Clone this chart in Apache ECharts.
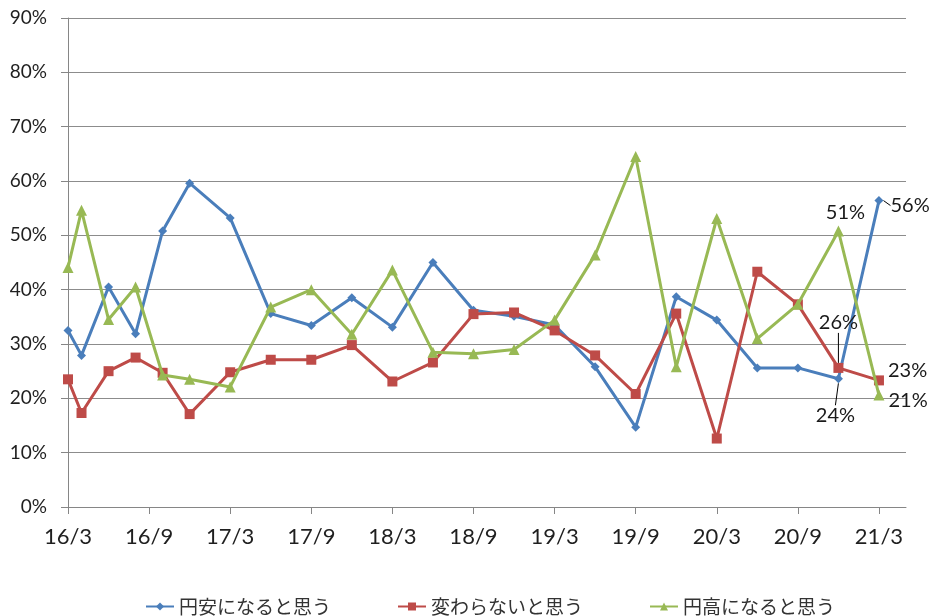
<!DOCTYPE html>
<html>
<head>
<meta charset="utf-8">
<script src="https://cdn.jsdelivr.net/npm/echarts@6/dist/echarts.min.js"></script>
<style>
html,body{margin:0;padding:0;background:#fff;}
#chart{width:930px;height:616px;}
</style>
</head>
<body>
<div id="chart"></div>
<script>
// Survey dates (YYYY-MM)
var surveyDates = ['2016-03','2016-04','2016-06','2016-08','2016-10','2016-12',
  '2017-03','2017-06','2017-09','2017-12','2018-03','2018-06','2018-09','2018-12',
  '2019-03','2019-06','2019-09','2019-12','2020-03','2020-06','2020-09','2020-12','2021-03'];
// Series values (%)
var yenWeaker = [32.5,27.9,40.5,31.9,50.8,59.6,53.2,35.6,33.4,38.5,33.1,45.0,36.2,35.1,33.5,25.8,14.7,38.7,34.4,25.6,25.6,23.6,56.4];
var unchanged = [23.5,17.3,25.0,27.5,24.7,17.1,24.8,27.1,27.1,29.8,23.1,26.6,35.5,35.8,32.5,27.9,20.8,35.6,12.6,43.3,37.3,25.6,23.3];
var yenStronger = [44.1,54.6,34.5,40.5,24.3,23.5,22.1,36.8,40.0,31.8,43.6,28.5,28.2,29.0,34.4,46.4,64.5,25.8,53.1,31.0,37.3,50.8,20.6];
var seriesNames = ['円安になると思う','変わらないと思う','円高になると思う'];
// X tick labels (YY/M)
var xTickLabels = ['16/3','16/9','17/3','17/9','18/3','18/9','19/3','19/9','20/3','20/9','21/3'];
var yTicks = [0,10,20,30,40,50,60,70,80,90];

function monthIndex(s){
  var p = s.split('-');
  return (parseInt(p[0],10)-2016)*12 + (parseInt(p[1],10)-3);
}
function labelIndex(s){
  var p = s.split('/');
  return (parseInt(p[0],10)-16)*12 + (parseInt(p[1],10)-3);
}
var xTickVals = xTickLabels.map(labelIndex);
var labelMap = {};
xTickLabels.forEach(function(l){ labelMap[labelIndex(l)] = l; });

var xs = surveyDates.map(monthIndex);
var lastIdx = xs.length - 1;

var labelFont = {fontFamily:'Lato', fontSize:20, color:'#1a1a1a'};

// which points carry a data label: position, leader line?, dx, dy
var labelSpecs = [
  {}, {}, {}
];
labelSpecs[0][lastIdx]   = {pos:'right',  line:true,  dx:2,  dy:5};
labelSpecs[0][lastIdx-1] = {pos:'bottom', line:true,  dx:-3, dy:17};
labelSpecs[1][lastIdx]   = {pos:'right',  line:false, dx:-1, dy:-10};
labelSpecs[1][lastIdx-1] = {pos:'top',    line:true,  dx:0,  dy:-25};
labelSpecs[2][lastIdx]   = {pos:'right',  line:false, dx:-1, dy:5};
labelSpecs[2][lastIdx-1] = {pos:'top',    line:false, dx:7,  dy:2};

function buildData(vals, spec){
  return vals.map(function(v,i){
    var item = {value:[xs[i], v]};
    if (spec[i]) {
      item.label = Object.assign({show:true, position:spec[i].pos, distance:5}, labelFont);
      item.labelLine = {show: !!spec[i].line, lineStyle:{color:'#000', width:1}};
    }
    return item;
  });
}

var chart = echarts.init(document.getElementById('chart'), null, {renderer:'canvas'});
var colors = ['#4A7EBB','#BE4B48','#98B954'];
var symbols = ['diamond','rect','triangle'];
var symSizes = [9,10,11];
var allVals = [yenWeaker, unchanged, yenStronger];

var series = allVals.map(function(vals, k){
  return {
    name: seriesNames[k],
    type: 'line',
    data: buildData(vals, labelSpecs[k]),
    symbol: symbols[k],
    symbolSize: symSizes[k],
    showAllSymbol: true,
    lineStyle: {color: colors[k], width: 3},
    itemStyle: {color: colors[k]},
    label: {show:false, formatter: function(p){ return Math.round(p.value[1]) + '%'; }},
    labelLine: {show:false},
    labelLayout: function(p){
      var s = labelSpecs[p.seriesIndex][p.dataIndex];
      return s ? {dx:s.dx, dy:s.dy} : {};
    },
    emphasis: {disabled:true},
    animation: false,
    z: 3 + k
  };
});

chart.setOption({
  animation: false,
  grid: {left:68, right:24, top:18, bottom:109, containLabel:false, outerBoundsMode:'none'},
  legend: {
    data: seriesNames,
    left: 140,
    top: 592,
    itemGap: 66,
    itemWidth: 28,
    itemHeight: 10,
    textStyle: {fontFamily:'Noto Sans CJK JP', fontSize:19, color:'#333'}
  },
  xAxis: {
    type: 'value',
    min: 0,
    max: 62,
    axisLine: {show:true, lineStyle:{color:'#868686', width:1}},
    axisTick: {show:true, length:7, customValues: xTickVals, lineStyle:{color:'#868686'}},
    axisLabel: {
      customValues: xTickVals,
      margin: 19,
      fontFamily: 'Lato', fontSize: 22, color: '#1f1f1f',
      formatter: function(v){ return labelMap[v] || ''; }
    },
    splitLine: {show:false}
  },
  yAxis: {
    type: 'value',
    min: yTicks[0],
    max: yTicks[yTicks.length-1],
    interval: 10,
    axisLine: {show:true, lineStyle:{color:'#868686', width:1}},
    axisTick: {show:true, length:7, lineStyle:{color:'#868686'}},
    axisLabel: {
      margin: 21,
      fontFamily: 'Lato', fontSize: 19, color: '#1f1f1f',
      formatter: function(v){ return v + '%'; }
    },
    splitLine: {show:true, lineStyle:{color:'#8c8c8c', width:1}}
  },
  series: series
});
</script>
</body>
</html>
